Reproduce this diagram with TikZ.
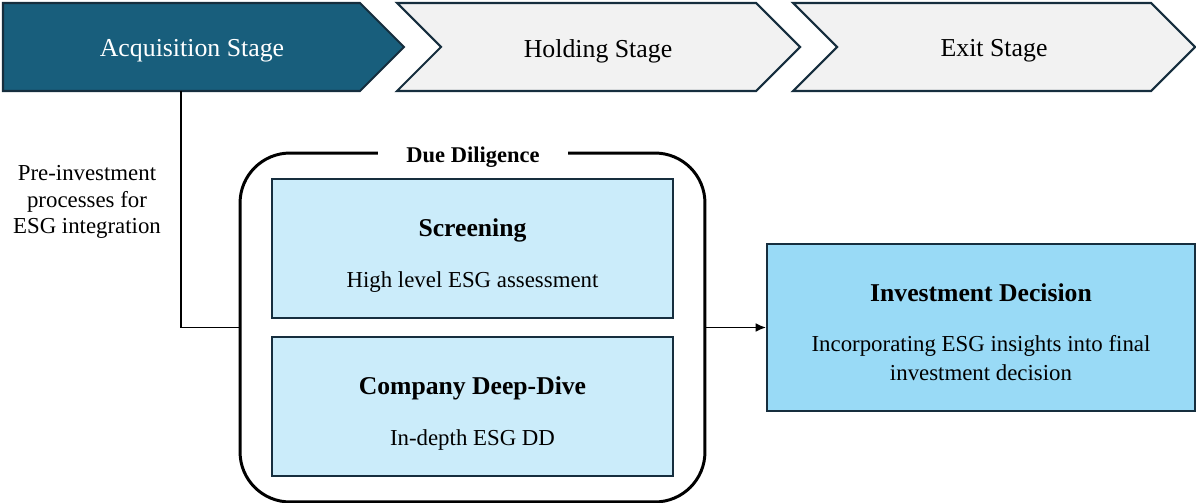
\documentclass[tikz,border=0pt]{standalone}
\usepackage{fontspec}
\setmainfont{Liberation Serif}
\usetikzlibrary{arrows.meta}

\definecolor{acqblue}{RGB}{24,94,124}
\definecolor{stagegray}{RGB}{242,242,242}
\definecolor{edgenavy}{RGB}{22,46,62}
\definecolor{lightsky}{RGB}{203,236,250}
\definecolor{decsky}{RGB}{153,218,246}

\newcommand{\boxtitle}[1]{{\fontsize{14.6}{17}\selectfont\bfseries #1}}

\begin{document}
\begin{tikzpicture}[x=0.02cm, y=-0.02cm,
    stagebox/.style={draw=edgenavy, line width=1.2pt, line join=miter},
    stagetext/.style={font=\fontsize{14.7}{17}\selectfont},
    ddbox/.style={draw=edgenavy, line width=0.9pt, fill=lightsky, minimum width=8.02cm,
      minimum height=2.78cm},
    boxtext/.style={align=center, font=\fontsize{13}{16.4}\selectfont},
    link/.style={line width=1.1pt}]

\useasboundingbox (0,0) rectangle (1196,503);

% the three stages
\draw[stagebox, fill=acqblue] (3,3) -- (360,3) -- (404,47) -- (360,91) -- (3,91) -- cycle;
\draw[stagebox, fill=stagegray] (397,3) -- (756,3) -- (800,47) -- (756,91) -- (397,91) -- (441,47) -- cycle;
\draw[stagebox, fill=stagegray] (793,3) -- (1151,3) -- (1195,47) -- (1151,91) -- (793,91) -- (837,47) -- cycle;

\node[stagetext, white] (acq) at (192,51) {Acquisition Stage};
\node[stagetext] (hold) at (598,51) {Holding Stage};
\node[stagetext] (exit) at (994,51) {Exit Stage};
\coordinate (acqfoot) at (181,91);

\node[align=center, font=\fontsize{13}{15.3}\selectfont] (pre) at (87,202)
  {Pre-investment\\ processes for\\ ESG integration};

% due diligence frame
\node[draw, line width=1.7pt, rounded corners=1cm, minimum width=9.3cm, minimum height=6.98cm]
  (dd) at (472.5,327.5) {};
\node[fill=white, inner xsep=0.56cm, inner ysep=1pt, font=\fontsize{12.8}{15}\selectfont\bfseries]
  (ddlabel) at (473,157) {Due Diligence};

\node[ddbox] (screen) at (472.5,248.5) {};
\node[boxtext] (screentext) at ([yshift=-4pt]screen.center)
  {\boxtitle{Screening}\\[12.5pt] High level ESG assessment};
\node[ddbox] (deep) at (472.5,406.5) {};
\node[boxtext] (deeptext) at ([yshift=-4pt]deep.center)
  {\boxtitle{Company Deep-Dive}\\[12.5pt] In-depth ESG DD};

\node[draw=edgenavy, line width=0.9pt, fill=decsky, minimum width=8.56cm, minimum height=3.34cm]
  (inv) at (981,327.5) {};
\node[boxtext] (invtext) at ([yshift=-2.8pt]inv.center)
  {\boxtitle{Investment Decision}\\[12pt] Incorporating ESG insights into final\\ investment decision};

\draw[link] (acqfoot) |- (dd.west);
\draw[link, -{Latex[length=6pt, width=5pt]}] (dd.east) -- (inv.west);

\end{tikzpicture}
\end{document}
